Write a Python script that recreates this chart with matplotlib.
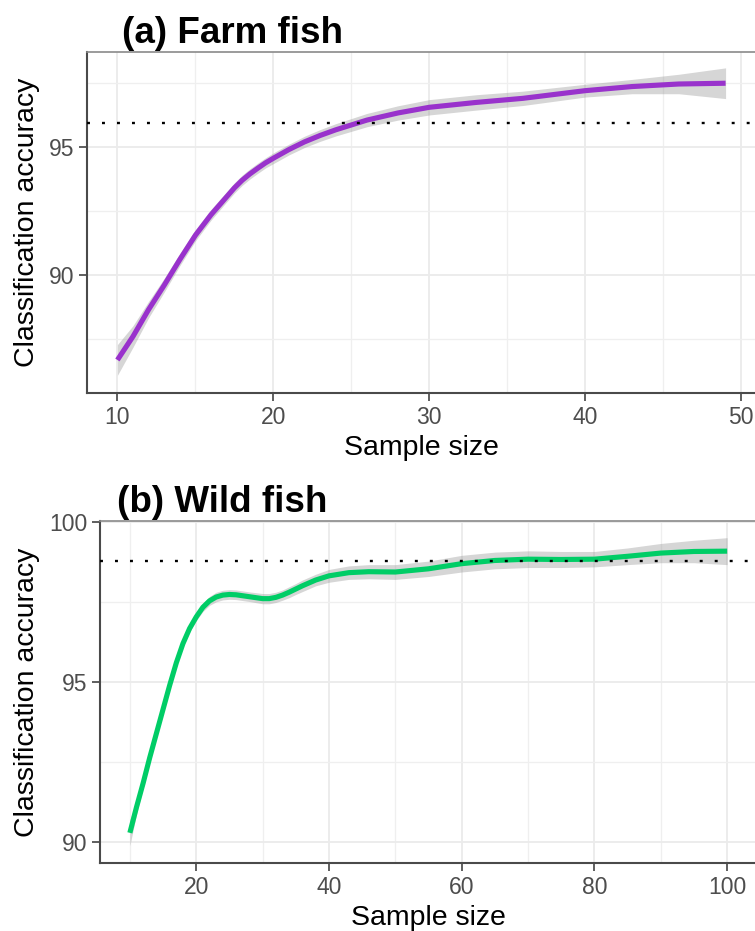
import numpy as np
import matplotlib
matplotlib.use("Agg")
import matplotlib.pyplot as plt
from matplotlib.ticker import MultipleLocator

plt.rcParams['font.family'] = ['Liberation Sans', 'DejaVu Sans']

# Farm fish: smoothed accuracy vs sample size, with ribbon half-width
farm_n = [10, 11, 12, 13, 14, 15, 16, 17, 17.5, 18, 18.5, 19, 19.5, 20, 21,
          22, 23, 24, 26, 28, 30, 33, 36, 40, 43, 46, 49]
farm_acc = [86.68, 87.6, 88.65, 89.6, 90.6, 91.55, 92.35, 93.05, 93.4, 93.7,
            93.95, 94.17, 94.38, 94.56, 94.9, 95.2, 95.45, 95.67, 96.05, 96.33,
            96.55, 96.74, 96.9, 97.2, 97.36, 97.46, 97.49]
farm_se = [0.6, 0.42, 0.32, 0.27, 0.24, 0.22, 0.21, 0.2, 0.2, 0.2, 0.2, 0.2,
           0.2, 0.21, 0.21, 0.22, 0.23, 0.24, 0.26, 0.28, 0.3, 0.3, 0.28, 0.25,
           0.28, 0.38, 0.6]
farm_ref = 95.94

# Wild fish
wild_n = [10, 11, 12, 13, 14, 15, 16, 17, 18, 19, 20, 21, 22, 23, 24, 25, 26,
          28, 30, 31, 32, 33, 34, 35, 36, 38, 40, 43, 46, 50, 55, 60, 65, 70,
          75, 80, 85, 90, 95, 100]
wild_acc = [90.3, 91.1, 91.85, 92.65, 93.4, 94.15, 94.9, 95.6, 96.2, 96.67,
            97.03, 97.33, 97.53, 97.65, 97.71, 97.73, 97.72, 97.66, 97.6, 97.6,
            97.64, 97.71, 97.8, 97.9, 98.0, 98.18, 98.31, 98.41, 98.44, 98.43,
            98.53, 98.69, 98.79, 98.83, 98.82, 98.83, 98.92, 99.02, 99.07,
            99.08]
wild_se = [0.4, 0.22, 0.15, 0.12, 0.1, 0.1, 0.1, 0.1, 0.1, 0.11, 0.12, 0.13,
           0.14, 0.15, 0.15, 0.15, 0.15, 0.15, 0.16, 0.16, 0.16, 0.16, 0.17,
           0.17, 0.18, 0.18, 0.2, 0.21, 0.22, 0.23, 0.24, 0.26, 0.26, 0.26,
           0.25, 0.24, 0.26, 0.3, 0.35, 0.42]
wild_ref = 98.76

W, H = 755, 931
fig = plt.figure(figsize=(W / 100, H / 100), dpi=100)


def px_box(left, top, right, bottom):
    return [left / W, 1 - bottom / H, (right - left) / W, (bottom - top) / H]


def style_axes(ax):
    ax.set_facecolor('white')
    ax.grid(which='major', color='#EBEBEB', linewidth=1.3, zorder=0)
    ax.grid(which='minor', color='#EFEFEF', linewidth=0.9, zorder=0)
    ax.set_axisbelow(True)
    for side in ('left', 'bottom'):
        ax.spines[side].set_color('#4A4A4A')
        ax.spines[side].set_linewidth(1.5)
    ax.spines['top'].set_color('#8A8A8A')
    ax.spines['top'].set_linewidth(1.2)
    ax.spines['right'].set_visible(False)
    ax.tick_params(which='major', length=5.5, width=1.1, color='#333333',
                   labelcolor='#4D4D4D', labelsize=16.5, pad=3.5)
    ax.tick_params(which='minor', length=0)


def draw_panel(box, n, acc, se, ref, color, xlim, ylim, xmaj, ymaj, title, title_xy):
    ax = fig.add_axes(px_box(*box))
    n = np.array(n)
    acc = np.array(acc)
    se = np.array(se)
    ax.fill_between(n, acc - se, acc + se, color='#999999', alpha=0.4,
                    linewidth=0, zorder=2)
    ax.plot(n, acc, color=color, linewidth=3.7, solid_capstyle='butt',
            solid_joinstyle='round', zorder=3)
    ax.axhline(ref, color='black', linewidth=1.7, linestyle=(0, (1.25, 5.1)),
               zorder=4)
    ax.set_xlim(*xlim)
    ax.set_ylim(*ylim)
    ax.xaxis.set_major_locator(MultipleLocator(xmaj))
    ax.xaxis.set_minor_locator(MultipleLocator(xmaj / 2))
    ax.yaxis.set_major_locator(MultipleLocator(ymaj))
    ax.yaxis.set_minor_locator(MultipleLocator(ymaj / 2))
    style_axes(ax)

    left, top, right, bottom = box
    fig.text(title_xy[0] / W, 1 - title_xy[1] / H, title, fontsize=26.5,
             fontweight='bold', ha='left', va='baseline')
    fig.text((left + right) / 2 / W, 1 - (bottom + 55) / H, 'Sample size',
             fontsize=20.5, ha='center', va='center')
    fig.text(27 / W, 1 - (top + bottom) / 2 / H, 'Classification accuracy',
             fontsize=20.5, ha='center', va='center', rotation=90)
    return ax


draw_panel((87, 52, 756, 393), farm_n, farm_acc, farm_se, farm_ref, '#9932CC',
           (8.05, 50.95), (85.39, 98.71), 10, 5, '(a) Farm fish', (122, 42.7))
draw_panel((100, 521, 757, 863), wild_n, wild_acc, wild_se, wild_ref, '#00CD66',
           (5.5, 104.5), (89.36, 100.02), 20, 5, '(b) Wild fish', (117, 511.7))

fig.savefig('out.png', dpi=100)
